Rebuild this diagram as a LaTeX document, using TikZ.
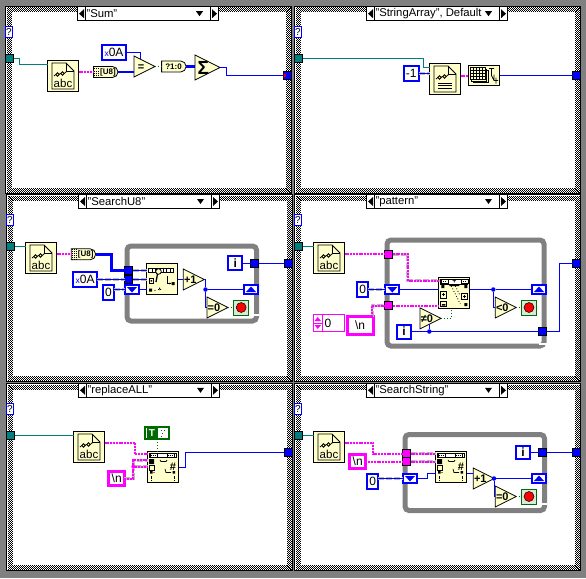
\documentclass[tikz,border=0pt]{standalone}
\usepackage{fontspec}
\setmainfont{Liberation Sans}
\usepackage{xcolor}
\definecolor{lvblue}{HTML}{0000FF}
\definecolor{lvteal}{HTML}{007F7F}
\definecolor{lvpink}{HTML}{FF00FF}
\definecolor{lvgreen}{HTML}{006B00}
\definecolor{lvgray}{HTML}{808080}
\definecolor{lvcream}{HTML}{FFFFCC}
\usetikzlibrary{shapes.geometric,shapes.misc,arrows.meta,positioning,calc}
% checker border of one case panel
\newcommand{\chkframe}[1]{\foreach \r in {1.5,2.5,3.5,4.5,5.5}
  \draw[chk] ([shift={(\r,\r)}]#1.north west) rectangle ([shift={(-\r,-\r)}]#1.south east);}
% case selector on top of a panel
\newcommand{\casesel}[4]{\node[selbox] (#1) at (#2,#3) {};
  \node[seltxt, anchor=west] (#1t) at ([xshift=9pt]#1.west) {#4};
  \begin{scope}[shift={(#1.center)}]
    \draw (-62.5,-7) -- (-62.5,7) (62.5,-7) -- (62.5,7);
    \fill (-69,0) -- (-64,-4.5) -- (-64,4.5) -- cycle (69,0) -- (64,-4.5) -- (64,4.5) -- cycle;
    \fill (48,-2.5) -- (55,-2.5) -- (51.5,2.5) -- cycle;
  \end{scope}}
% text of a triangle, takes no room so the triangle keeps its size
\newcommand{\tritxt}[1]{\makebox[0pt]{\hspace*{1pt}\raisebox{-.36em}[0pt][0pt]{#1}}}
% file icon, page with glasses
\newcommand{\docpage}[1]{\begin{scope}[shift={(#1.center)}]
    \draw[fill=lvcream, line width=.8pt] (-11,-13) -- (3,-13) -- (11,-5) -- (11,13) -- (-11,13) -- cycle;
    \draw[line width=.7pt] (3,-13) -- (3,-5) -- (11,-5);
    \draw[line width=.8pt] (-5.5,-1.5) circle (1.8) (-.5,-2.5) circle (1.8) (-7.3,-1.5) -- (-9,0) (1.3,-2.5) -- (3.5,-4.5) (-3.7,-2) -- (-2.3,-2.5);
  \end{scope}}
\newcommand{\docabc}[1]{\docpage{#1}
  \node[lbl, font=\fontsize{11.5}{11.5}\selectfont] (#1t) at ([yshift=-7pt]#1.center) {abc};}
\newcommand{\docrow}[1]{\docpage{#1}
  \begin{scope}[shift={(#1.center)}]
    \foreach \y in {4,6.5,9} \draw[line width=.8pt] (-7,\y) -- (7,\y);
  \end{scope}}
% top strip of the search icons, with hatched ends
\newcommand{\hatchcell}[2]{\draw[line width=.6pt, fill=white] (#1,#2) rectangle ++(7,4);
  \draw[line width=1pt, dash pattern=on 1pt off 1pt] (#1+.5,#2+2) -- ++(6,0);}
\newcommand{\srchic}[1]{\begin{scope}[shift={(#1.center)}]
    \draw[line width=.7pt, fill=white] (-13.5,-10.5) rectangle (11,-7);
    \foreach \x in {-10,-6.5,-3,1,4.5,8} \draw[line width=.7pt] (\x,-10.5) -- (\x,-7);
    \draw[line width=.8pt, fill=lvcream] (-3.5,-7.5) circle (2.8);
    \draw[line width=1.3pt] (-4.5,-5) -- (-6,3);
    \draw[line width=.7pt] (-13,-.5) rectangle (-8.5,4);
    \fill (-11.5,1) rectangle (-10,2.5) (-13,9.5) rectangle (-10,12.5) (9.5,3) rectangle (12.5,6);
    \fill (-7,11.5) circle (.6) (-3,11) rectangle (-2,8.5) (-4,10) rectangle (-1,10.8);
    \draw[line width=.7pt, -{Stealth[length=2pt]}] (5,-3) |- (9.5,4.5);
  \end{scope}}
\newcommand{\splitic}[1]{\begin{scope}[shift={(#1.center)}]
    \draw[line width=.7pt, fill=white] (-13.5,-14) rectangle (13.5,-9);
    \hatchcell{-13.5}{-14}\hatchcell{6.5}{-14}
    \node[lbl, font=\fontsize{7}{7}\selectfont\bfseries] (#1t) at (0,-11.5) {+};
    \fill (-13,-8) rectangle (-10,-5) (10,-8) rectangle (13,-5) (-5,-8) rectangle (5,-7);
    \draw[line width=.7pt] (-14,-2) rectangle (-8,5) (7,0) rectangle (13,6) (-14,8) rectangle (-8,13);
    \draw[line width=.7pt] (-12.5,1.5) -- (-9.5,1.5) (-11,0) -- (-11,3) (8.5,3) -- (11.5,3) (10,1.5) -- (10,4.5);
    \fill (10,10) rectangle (13,13) (-12.5,11) rectangle (-9,12.5);
    \draw[line width=.8pt, dotted] (-3,-7) -- (6,11) (1,-7) -- (6,3);
  \end{scope}}
\newcommand{\replic}[1]{\begin{scope}[shift={(#1.center)}]
    \draw[line width=.7pt, fill=white] (-13.5,-14) rectangle (13.5,-9.5);
    \hatchcell{-13}{-14}\hatchcell{4}{-14}
    \fill[black] (-14,-8) rectangle (-9,-3) (-13,4) rectangle (-10.5,6.5) (9.5,4) rectangle (12,6.5);
    \draw[line width=.8pt] (-14,-2) rectangle (-9,3);
    \draw[line width=.8pt] (-3,-7) -- (-2,-5.5) -- (3,-5.5) -- (4,-7);
    \fill (-9,5.5) circle (.6);
    \foreach \x in {-11.5,11} \draw[line width=1pt] (\x,9) -- (\x,12) (\x,13) -- (\x,14);
    \draw[line width=.7pt] (2,2) -- (3,5.5) -- (8,5.5);
    \node[lbl, font=\fontsize{11}{11}\selectfont\bfseries] (#1t) at (10,-.5) {\#};
  \end{scope}}
% stacked table icon
\newcommand{\tableic}[1]{\begin{scope}[shift={(#1.center)}]
    \foreach \d in {3,1.5,0} {
      \draw[line width=.7pt, fill=lvcream] (-14+\d,-8+\d) rectangle (1+\d,4+\d);}
    \foreach \x in {-11,-8,-5,-2} \draw[line width=.7pt] (\x,-8) -- (\x,4);
    \foreach \y in {-5,-2,1} \draw[line width=.7pt] (-14,\y) -- (1,\y);
    \draw[line width=.8pt] (5,-7) -- (10,-7) (7.5,-7) -- (7.5,0) -- (10,5) -- (14,5) (10,-1) -- (10,5) (12,2) -- (12,8);
  \end{scope}}
% bullets with a hatched tail
\newcommand{\hatchend}[1]{\foreach \s in {1.5,3.5,5.5}
  \draw[line width=1pt, dash pattern=on 1pt off 1pt] ([xshift=\s pt]#1.north west) -- ([xshift=\s pt]#1.south west);}
\newcommand{\stopic}[4]{\node[stopbox] (#1) at (#2,#3) {};
  \node[stopdot] (#1r) at (#1.center) {};}
\newcommand{\shdn}[3]{\node[shr] (#1) at (#2,#3) {};
  \fill[lvblue] ([shift={(-5,-2.5)}]#1.center) -- ([shift={(5,-2.5)}]#1.center) -- ([shift={(0,3)}]#1.center) -- cycle;}
\newcommand{\shup}[3]{\node[shr] (#1) at (#2,#3) {};
  \fill[lvblue] ([shift={(-5,2.5)}]#1.center) -- ([shift={(5,2.5)}]#1.center) -- ([shift={(0,-3)}]#1.center) -- cycle;}

\begin{document}
\begin{tikzpicture}[x=1pt, y=-1pt,
    lbl/.style={inner sep=0, outer sep=0, font=\fontsize{12}{12}\selectfont},
    panel/.style={draw=black, fill=white, line width=1pt, minimum width=286pt, minimum height=187pt, inner sep=0, outer sep=0},
    chk/.style={line width=1pt, dash pattern=on 1pt off 1pt},
    selbox/.style={draw=black, fill=white, line width=1pt, minimum width=141pt, minimum height=13.5pt, inner sep=0, outer sep=0},
    seltxt/.style={inner sep=0, outer sep=0, font=\fontsize{11.3}{12}\selectfont},
    qbox/.style={draw=lvblue, fill=white, line width=.8pt, minimum width=7pt, minimum height=11pt, inner sep=0, outer sep=0, font=\fontsize{10}{10}\selectfont},
    tun/.style={draw=black, fill=lvblue, line width=.7pt, minimum width=8pt, minimum height=8pt, inner sep=0, outer sep=0},
    tunt/.style={tun, fill=lvteal},
    tunp/.style={tun, fill=lvpink},
    ico/.style={draw=black, fill=lvcream, line width=.8pt, minimum width=31pt, minimum height=31pt, inner sep=0, outer sep=0},
    cst/.style={draw=lvblue, fill=white, line width=2pt, inner sep=0, outer sep=0, minimum height=14.5pt, font=\fontsize{12}{12}\selectfont},
    cstp/.style={cst, draw=lvpink, line width=3pt},
    tri/.style={draw=black, fill=lvcream, line width=.8pt, isosceles triangle, isosceles triangle stretches, shape border rotate=0, minimum width=21pt, minimum height=21pt, inner sep=0, outer sep=0, anchor=west, font=\fontsize{11}{11}\selectfont\bfseries},
    bul/.style={draw=black, fill=lvcream, line width=.8pt, rounded rectangle, rounded rectangle left arc=none, minimum width=24.5pt, minimum height=11pt, inner sep=0, outer sep=0, font=\fontsize{8}{9}\selectfont\bfseries},
    loopfr/.style={draw=lvgray, line width=5pt, rounded corners=4pt, inner sep=0, outer sep=0},
    shr/.style={draw=lvblue, fill=white, line width=1.8pt, minimum width=14pt, minimum height=9.5pt, inner sep=0, outer sep=0},
    stopbox/.style={draw=lvgreen, fill=white!85!lvgreen, line width=1pt, minimum width=15pt, minimum height=15pt, inner sep=0, outer sep=0},
    stopdot/.style={circle, draw=black, fill=red, line width=.5pt, minimum size=10pt, inner sep=0, outer sep=0},
    jct/.style={circle, fill=lvblue, minimum size=4.5pt, inner sep=0, outer sep=0},
    tw/.style={draw=lvteal, line width=1pt},
    bw/.style={draw=lvblue, line width=1pt},
    mbw/.style={draw=lvblue, line width=1.6pt},
    bbw/.style={draw=lvblue, line width=2.4pt},
    sw/.style={draw=lvpink, line width=2pt, dash pattern=on 2pt off .8pt},
    gw/.style={draw=lvgreen, line width=1pt, dotted},
    sh/.style={preaction={draw=lvgray!55, line width=3pt, solid, dash pattern=on 6pt off 2pt}}
  ]
  \useasboundingbox (0,0) rectangle (586,578);
  \fill[lvgray] (0,0) rectangle (586,578);
  \node[panel] (cs1) at (148.5,100) {};
  \node[panel] (cs2) at (437.5,100) {};
  \node[panel] (cs3) at (149.5,288) {};
  \node[panel] (cs4) at (437.5,288) {};
  \node[panel] (cs5) at (149.5,477) {};
  \node[panel] (cs6) at (437.5,477) {};
  \chkframe{cs1} \chkframe{cs2} \chkframe{cs3} \chkframe{cs4} \chkframe{cs5} \chkframe{cs6}
  \casesel{sel1}{148}{13.7}{"Sum"}
  \casesel{sel2}{437}{13.7}{"StringArray", Default}
  \casesel{sel3}{149}{201.5}{"SearchU8"}
  \casesel{sel4}{437}{201.5}{"pattern"}
  \casesel{sel5}{149}{390.3}{"replaceALL"}
  \casesel{sel6}{437}{390.3}{"SearchString"}
  \node[qbox] (q1) at (9,32) {?};
  \node[qbox] (q2) at (298,32) {?};
  \node[qbox] (q3) at (10,220) {?};
  \node[qbox] (q4) at (298,220) {?};
  \node[qbox] (q5) at (10,409) {?};
  \node[qbox] (q6) at (298,409) {?};

  % Sum
  \node[tunt] (tm1) at (9.7,58.5) {};
  \node[ico] (rd1) at (63,76) {};
  \docabc{rd1}
  \node[bul, align=right] (u81) at (105,72) {\hspace*{6pt}[U8]};
  \hatchend{u81}
  \node[cst, minimum width=24.5pt] (ca1) at (114,52.5) {{\color{lvblue}\fontsize{8.5}{8}\selectfont x}0A};
  \node[tri] (eq1) at (134,66.5) {\tritxt{=}};
  \node[bul] (b1) at (173.5,66.5) {?1:0};
  \node[tri, minimum width=25pt, minimum height=25pt, font=\fontsize{19}{19}\selectfont\bfseries] (sm1) at (195,67.5) {\tritxt{Σ}};
  \node[tun] (tout1) at (287.5,75.5) {};
  \fill[red] (tout1.west) ++(0,-2.5) -- ++(3,2.5) -- ++(-3,2.5) -- cycle;
  \draw[tw] (tm1.east) -- ++(6,0) |- ([yshift=11.5pt]rd1.west);
  \draw[sw] (rd1.east |- u81.west) -- (u81.west);
  \draw[bbw] (u81.east) -- (u81.east -| eq1.west);
  \draw[bw] (ca1.east) -| ($(eq1.west)+(6.5,-7)$);
  \draw[gw] (eq1.east) -- (b1.west);
  \draw[bbw] (b1.east) -- (b1.east -| sm1.west);
  \draw[bw] (sm1.east) -- ++(6,0) |- (tout1.west);

  % StringArray
  \node[tunt] (tm2) at (298.7,58.5) {};
  \node[ico] (rd2) at (445,79) {};
  \docrow{rd2}
  \node[cst, minimum width=14.5pt] (k2) at (411.3,73.5) {-1};
  \node[ico, minimum height=20.5pt] (sp2) at (484,75.5) {};
  \tableic{sp2}
  \node[tun] (tout2) at (576.7,75.5) {};
  \draw[tw] (tm2.east) -- ++(120.5,0) |- ([yshift=11.5pt]rd2.west);
  \draw[bw, sh] (k2.east) -- (k2.east -| rd2.west);
  \draw[sw] (rd2.east |- sp2.west) -- (sp2.west);
  \draw[bw] (sp2.east) -- (tout2.west);

  % SearchU8
  \node[loopfr, minimum width=129.5pt, minimum height=75pt] (lp3) at (191.75,283.5) {};
  \node[tunt] (tm3) at (10.7,246.5) {};
  \node[ico] (rd3) at (41,258) {};
  \docabc{rd3}
  \node[bul] (u83) at (82.7,254.3) {\hspace*{6pt}[U8]};
  \hatchend{u83}
  \node[cst, minimum width=24pt] (c3) at (85.2,279.5) {{\color{lvblue}\fontsize{8.5}{8}\selectfont x}0A};
  \node[cst, minimum width=11pt] (k3) at (108.5,292.5) {0};
  \node[tun] (tn31) at (128.5,270.5) {};
  \node[tun] (tn32) at (128.5,279.5) {};
  \shdn{dn3}{132}{289.5}
  \node[ico] (sr3) at (162,279) {};
  \srchic{sr3}
  \node[tri] (inc3) at (183.3,279.5) {\tritxt{+1}};
  \node[tri] (ez3) at (207,307.5) {\tritxt{=0}};
  \node[jct] (j3) at (205.5,289.5) {};
  \shup{up3}{251}{289.5}
  \stopic{st3}{241.2}{307.5}{}
  \node[cst, minimum width=13.5pt, minimum height=13.5pt, font=\fontsize{12}{12}\selectfont\bfseries] (i3) at (235.2,262.8) {i};
  \node[tun] (tn33) at (254.5,263.5) {};
  \node[tun] (tout3) at (288.3,263.5) {};
  \fill[white] (252,314) rectangle (259,316);
  \draw[tw] (tm3.east) -- (tm3.east -| rd3.west);
  \draw[sw] (rd3.east |- u83.west) -- (u83.west);
  \draw[bbw] (u83.east) -- ++(16,0) |- (tn31.west);
  \draw[bw, sh] (c3.east) -- (c3.east -| tn32.west);
  \draw[bw, sh] (k3.east |- dn3.west) -- (dn3.west);
  \draw[mbw, sh] (tn31.east) -- (tn31.east -| sr3.west);
  \draw[bw, sh] (tn32.east) -- (tn32.east -| sr3.west);
  \draw[bw] (dn3.east) -- (dn3.east -| sr3.west);
  \draw[bw] (sr3.east |- inc3.west) -- (inc3.west);
  \draw[bw] (inc3.east) -| (j3);
  \draw[bw] (j3) -- (j3 -| up3.west);
  \draw[bw] (j3) |- (ez3.west);
  \draw[gw] (ez3.east) -- (st3.west);
  \draw[bw] (i3.east |- tn33.west) -- (tn33.west);
  \draw[bw] (tn33.east) -- (tout3.west);

  % pattern
  \node[loopfr, minimum width=157pt, minimum height=106pt] (lp4) at (465.5,293) {};
  \node[tunt] (tm4) at (298.7,246.5) {};
  \node[ico] (rd4) at (329,258) {};
  \docabc{rd4}
  \node[tunp] (tn41) at (388.8,254.3) {};
  \node[tunp] (tn42) at (388.8,305.5) {};
  \node[cst, minimum width=10.5pt] (k4) at (362.7,289.5) {0};
  \shdn{dn4}{392.3}{289.5}
  \node[ico] (sp4) at (454.3,293) {};
  \splitic{sp4}
  \node[jct] (j41) at (493.3,289.5) {};
  \shup{up4}{539}{289.5}
  \node[tri] (lt4) at (495.3,307.5) {\tritxt{<0}};
  \stopic{st4}{529}{307.5}{}
  \node[draw=lvpink, fill=white, line width=1pt, minimum width=31pt, minimum height=17pt, inner sep=0, outer sep=0] (ar4) at (329.2,323) {};
  \node[lbl, anchor=west] (ar4t) at (324.5,323) {0};
  \draw[draw=lvpink, line width=1.5pt] (322.5,315) -- (322.5,331);
  \draw[lvpink, line width=.8pt] (314,323) -- (322,323);
  \fill[lvpink] (314.5,321) -- (321,321) -- (317.7,317) -- cycle (314.5,325) -- (321,325) -- (317.7,329) -- cycle;
  \node[cstp, minimum width=26pt, minimum height=18pt] (nl4) at (360,325.5) {\textbackslash n};
  \node[tri] (ne4) at (420,318.4) {\tritxt{≠0}};
  \node[cst, minimum width=13.5pt, minimum height=14pt, font=\fontsize{12}{12}\selectfont\bfseries] (i4) at (404,331.5) {i};
  \node[jct] (j42) at (429.3,331.5) {};
  \node[tun] (tn43) at (542.5,331.5) {};
  \node[tun] (tout4) at (576.7,263.5) {};
  \fill[white] (539,343) rectangle (547,345);
  \draw[tw] (tm4.east) -- (tm4.east -| rd4.west);
  \draw[sw] (rd4.east |- tn41.west) -- (tn41.west);
  \draw[sw, sh] (tn41.east) -- ++(15,0) |- ([yshift=12.5pt]sp4.west);
  \draw[bw, sh] (k4.east) -- (dn4.west);
  \draw[bw] (dn4.east) -- (dn4.east -| sp4.west);
  \draw[bw] (j41 -| sp4.east) -- (j41);
  \draw[bw] (j41) -- (j41 -| up4.west);
  \draw[bw] (j41) |- (lt4.west);
  \draw[gw] (lt4.east) -- (st4.west);
  \draw[sw, sh] ([xshift=12pt]nl4.north) |- (tn42.west);
  \draw[sw] (tn42.east) -- (tn42.east -| sp4.west);
  \draw[gw] (ne4.east) -| ([xshift=-3pt]sp4.south);
  \draw[bw] (i4.east) -- (tn43.west);
  \draw[bw] (j42) -- ($(ne4.west)+(9.3,5.8)$);
  \draw[bw] (tn43.east) -- ++(12.5,0) |- (tout4.west);

  % replaceALL
  \node[tunt] (tm5) at (10.7,435.5) {};
  \node[ico] (rd5) at (89,447) {};
  \docabc{rd5}
  \node[cst, draw=lvgreen, line width=2pt, minimum width=24pt, minimum height=12pt] (tt5) at (157,433) {};
  \node[draw=lvgreen, fill=lvgreen, text=white, inner sep=0, outer sep=0, minimum width=10pt, minimum height=10pt, font=\fontsize{10}{10}\selectfont\bfseries] (tt5t) at (152,433) {T};
  \draw[gw] (161,430) -- (165,430) (162,433) -- (164,433) (161,436) -- (163,436);
  \node[ico] (rp5) at (163,467) {};
  \replic{rp5}
  \node[cstp, minimum width=15.5pt, minimum height=14pt] (nl5) at (116.7,478.5) {\textbackslash n};
  \node[circle, fill=lvpink, minimum size=4pt, inner sep=0, outer sep=0] (j5) at (133.3,466.7) {};
  \node[tun] (tout5) at (288.3,452.5) {};
  \draw[tw] (tm5.east) -- (tm5.east -| rd5.west);
  \draw[sw] ([yshift=4.3pt]rd5.east) -- ++(30.3,0) |- ([yshift=13pt]rp5.west);
  \draw[gw] (tt5.south) -- (tt5.south |- rp5.north);
  \draw[sw, sh] (nl5.east) -| (j5);
  \draw[sw, sh] (j5) -- (j5 -| rp5.west);
  \draw[sw, sh] (j5) |- ([yshift=7pt]rp5.west);
  \draw[bw] (rp5.east) -- ++(6.5,0) |- (tout5.west);

  % SearchString
  \node[loopfr, minimum width=139.5pt, minimum height=76pt] (lp6) at (474.75,472.5) {};
  \node[tunt] (tm6) at (298.7,435.5) {};
  \node[ico] (rd6) at (329,447) {};
  \docabc{rd6}
  \node[cstp, minimum width=15.5pt, minimum height=14pt] (nl6) at (357.7,461.7) {\textbackslash n};
  \node[cst, minimum width=10.5pt] (k6) at (372.7,481.7) {0};
  \node[tunp] (tn61) at (406.5,453.8) {};
  \node[tunp] (tn62) at (406.5,461.7) {};
  \shdn{dn6}{410}{478.5}
  \node[ico] (sr6) at (451,467) {};
  \replic{sr6}
  \node[tri] (inc6) at (473.3,478.5) {\tritxt{+1}};
  \node[jct] (j6) at (494,478.5) {};
  \shup{up6}{539}{478.5}
  \node[tri] (ez6) at (495.3,496.5) {\tritxt{=0}};
  \stopic{st6}{529}{496.5}{}
  \node[cst, minimum width=13.5pt, minimum height=13.5pt, font=\fontsize{12}{12}\selectfont\bfseries] (i6) at (523,452.5) {i};
  \node[tun] (tn63) at (542.5,452.5) {};
  \node[tun] (tout6) at (576.7,452.5) {};
  \fill[white] (539,503) rectangle (547,505);
  \draw[tw] (tm6.east) -- (tm6.east -| rd6.west);
  \draw[sw] ([yshift=4.3pt]rd6.east) -- ++(28.3,0) |- (tn61.west);
  \draw[sw] (nl6.east |- tn62.west) -- (tn62.west);
  \draw[sw, sh] (tn61.east) -- (tn61.east -| sr6.west);
  \draw[sw, sh] (tn62.east) -- (tn62.east -| sr6.west);
  \draw[bw, sh] (k6.east |- dn6.west) -- (dn6.west);
  \draw[bw] (dn6.east) -- ++(10,0) |- ([yshift=-6.5pt]sr6.west);
  \draw[bw] ([yshift=-6.5pt]sr6.east) -- ([yshift=-6.5pt]sr6.east -| inc6.west);
  \draw[bw] (j6) -- (j6 -| up6.west);
  \draw[bw] (j6) |- (ez6.west);
  \draw[gw] (ez6.east) -- (st6.west);
  \draw[bw] (i6.east) -- (tn63.west);
  \draw[bw] (tn63.east) -- (tout6.west);
\end{tikzpicture}
\end{document}
